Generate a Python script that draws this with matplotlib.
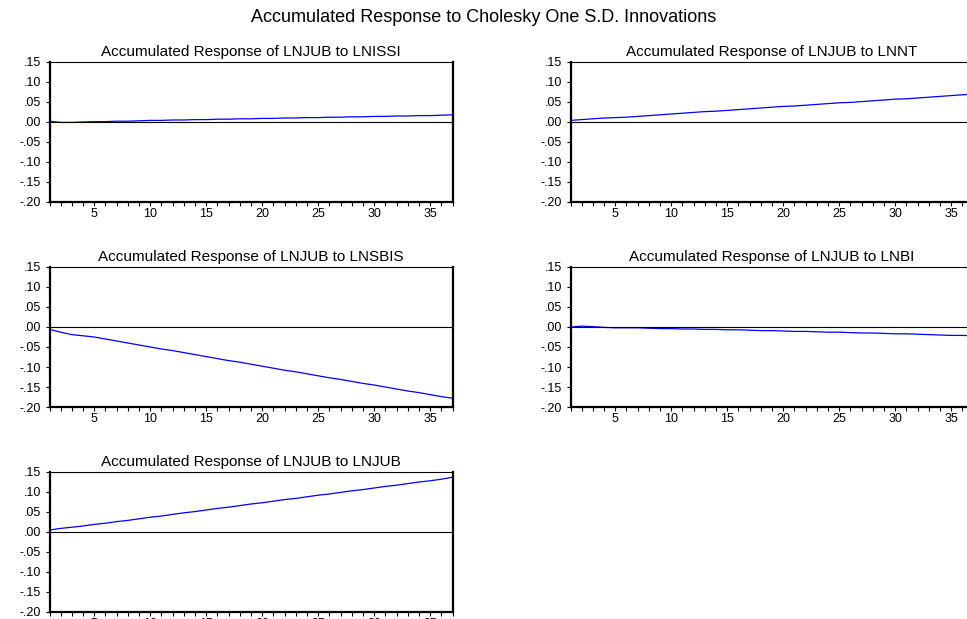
import matplotlib
matplotlib.use("Agg")
import matplotlib.pyplot as plt
from matplotlib.ticker import FixedLocator, FuncFormatter

plt.rcParams['font.family'] = ['Liberation Sans', 'DejaVu Sans']

periods = list(range(1, 38))

resp_lnissi = [0.002, -0.001, -0.001, 0.000, 0.001, 0.001, 0.002, 0.002, 0.003, 0.004,
               0.004, 0.005, 0.005, 0.006, 0.006, 0.007, 0.007, 0.008, 0.008, 0.009,
               0.009, 0.010, 0.010, 0.011, 0.011, 0.012, 0.012, 0.013, 0.013, 0.014,
               0.014, 0.015, 0.015, 0.016, 0.016, 0.017, 0.018]
resp_lnnt = [0.004, 0.006, 0.008, 0.010, 0.011, 0.012, 0.014, 0.016, 0.018, 0.020,
             0.022, 0.024, 0.026, 0.027, 0.029, 0.031, 0.033, 0.035, 0.037, 0.039,
             0.040, 0.042, 0.044, 0.046, 0.048, 0.049, 0.051, 0.053, 0.055, 0.057,
             0.058, 0.060, 0.062, 0.064, 0.066, 0.068, 0.070]
resp_lnsbis = [-0.006, -0.013, -0.019, -0.022, -0.025, -0.030, -0.035, -0.040, -0.045, -0.050,
               -0.055, -0.059, -0.064, -0.069, -0.074, -0.079, -0.084, -0.088, -0.093, -0.098,
               -0.103, -0.108, -0.112, -0.117, -0.122, -0.127, -0.131, -0.136, -0.141, -0.145,
               -0.150, -0.155, -0.160, -0.164, -0.169, -0.174, -0.178]
resp_lnbi = [0.000, 0.002, 0.001, -0.001, -0.002, -0.002, -0.002, -0.003, -0.004, -0.004,
             -0.005, -0.005, -0.006, -0.006, -0.007, -0.007, -0.008, -0.009, -0.009, -0.010,
             -0.011, -0.011, -0.012, -0.013, -0.013, -0.014, -0.015, -0.015, -0.016, -0.017,
             -0.017, -0.018, -0.019, -0.020, -0.021, -0.021, -0.022]
resp_lnjub = [0.005, 0.009, 0.012, 0.015, 0.019, 0.022, 0.026, 0.029, 0.033, 0.037,
              0.040, 0.044, 0.048, 0.051, 0.055, 0.059, 0.062, 0.066, 0.070, 0.073,
              0.077, 0.081, 0.084, 0.088, 0.092, 0.095, 0.099, 0.103, 0.106, 0.110,
              0.114, 0.117, 0.121, 0.125, 0.128, 0.132, 0.137]

titles = ["Accumulated Response of LNJUB to LNISSI",
          "Accumulated Response of LNJUB to LNNT",
          "Accumulated Response of LNJUB to LNSBIS",
          "Accumulated Response of LNJUB to LNBI",
          "Accumulated Response of LNJUB to LNJUB"]
series = [resp_lnissi, resp_lnnt, resp_lnsbis, resp_lnbi, resp_lnjub]
y_ticks = [-0.20, -0.15, -0.10, -0.05, 0.00, 0.05, 0.10, 0.15]
x_labels = [5, 10, 15, 20, 25, 30, 35]

W, H = 967, 619
fig = plt.figure(figsize=(W / 100, H / 100), dpi=100)

ax_w, ax_h = 403, 140
boxes = [(49.5, 62), (570.5, 62), (49.5, 267), (570.5, 267), (49.5, 472)]
title_right = [447, 962, 447, 962, 447]

def fmt(v, pos):
    s = "%.2f" % v
    if s.startswith("-0"):
        s = "-" + s[2:]
    elif s.startswith("0"):
        s = s[1:]
    return s

for (l, t), title, vals in zip(boxes, titles, series):
    ax = fig.add_axes([l / W, (H - t - ax_h) / H, ax_w / W, ax_h / H])
    ax.plot(periods, vals, color="#0000ff", lw=0.9)
    ax.axhline(0, color="black", lw=0.8)
    ax.set_xlim(1, 37)
    ax.set_ylim(-0.20, 0.15)
    ax.yaxis.set_major_locator(FixedLocator(y_ticks))
    ax.yaxis.set_major_formatter(FuncFormatter(fmt))
    ax.xaxis.set_major_locator(FixedLocator(x_labels))
    ax.xaxis.set_minor_locator(FixedLocator(periods))
    ax.tick_params(axis="x", which="both", direction="out", length=3, width=0.8,
                   labelsize=9, pad=1)
    ax.tick_params(axis="y", direction="out", length=3, width=0.8, labelsize=9, pad=3)
    for side in ["left", "bottom", "right"]:
        ax.spines[side].set_linewidth(1.6)
    ax.spines["top"].set_linewidth(0.8)
    ax.set_title(title, fontsize=11, pad=4)

fig.text(0.5, 1 - 18 / H, "Accumulated Response to Cholesky One S.D. Innovations",
         ha="center", va="center", fontsize=13)

fig.savefig("out.png", dpi=100)
